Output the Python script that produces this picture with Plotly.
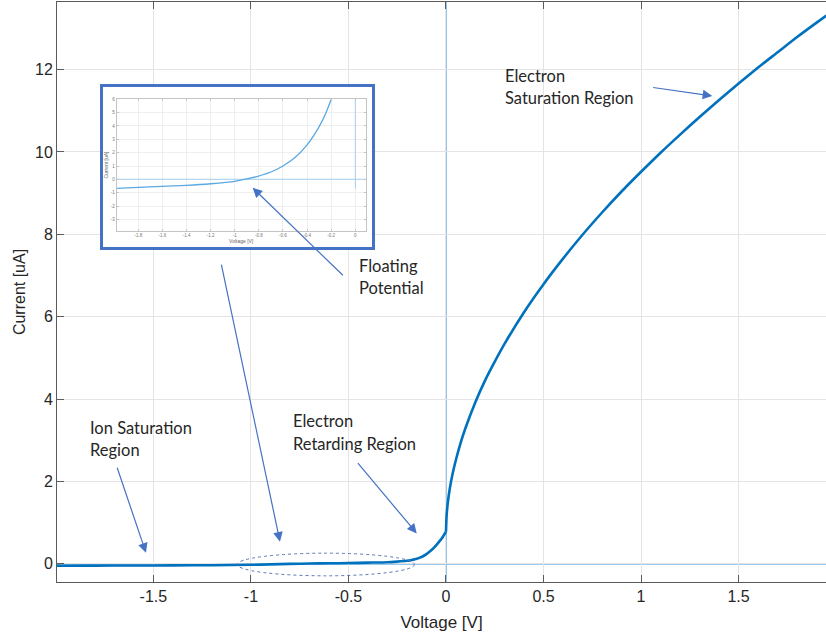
import plotly.graph_objects as go

# ---- Langmuir probe I-V characteristic -------------------------------
# Retarding / ion-saturation side (V <= 0)
v_neg = [-2.0, -1.8, -1.6, -1.4, -1.2, -1.0, -0.9, -0.8, -0.7, -0.6, -0.5,
         -0.4, -0.3, -0.25, -0.2, -0.18, -0.16, -0.14, -0.12, -0.1, -0.08,
         -0.06, -0.04, -0.02, 0.0]
i_neg = [-0.045, -0.042, -0.040, -0.037, -0.032, -0.022, -0.012, 0.0, 0.008,
         0.014, 0.02, 0.03, 0.04, 0.055, 0.075, 0.09, 0.11, 0.14, 0.18, 0.235,
         0.31, 0.40, 0.51, 0.63, 0.78]

# Electron saturation side (V >= 0)
v_pos = [0.0, 0.003, 0.01, 0.02, 0.035, 0.05, 0.075, 0.1, 0.15, 0.2, 0.25,
         0.3, 0.4, 0.5, 0.6, 0.7, 0.8, 0.9, 1.0, 1.1, 1.2, 1.3, 1.4, 1.5, 1.6,
         1.7, 1.8, 1.9, 1.95]
i_pos = [0.78, 1.16, 1.51, 1.84, 2.21, 2.51, 2.94, 3.30, 3.92, 4.45, 4.91,
         5.34, 6.11, 6.79, 7.41, 7.99, 8.53, 9.04, 9.52, 9.98, 10.42, 10.85,
         11.26, 11.66, 12.05, 12.42, 12.79, 13.14, 13.31]

# Inset: close-up around the floating potential
v_inset = [-1.98, -1.8, -1.61, -1.4, -1.2, -1.0, -0.9, -0.81, -0.7, -0.6,
           -0.5, -0.4, -0.3, -0.245, -0.2]
i_inset = [-0.68, -0.60, -0.53, -0.45, -0.33, -0.15, 0.03, 0.23, 0.55, 1.0,
           1.63, 2.58, 3.95, 4.95, 6.0]
v_inset_step = [0.0, 0.0]
i_inset_step = [6.0, -0.7]

x_range = [-1.994, 1.948]
y_range = [-0.44, 13.64]
x_tickvals = [-1.5, -1, -0.5, 0, 0.5, 1, 1.5]
x_ticktext = ["-1.5", "-1", "-0.5", "0", "0.5", "1", "1.5"]
y_tickvals = [0, 2, 4, 6, 8, 10, 12]
y_ticktext = ["0", "2", "4", "6", "8", "10", "12"]

inset_x_range = [-1.98, 0.086]
inset_y_range = [-3.85, 6]
inset_x_tickvals = [-1.8, -1.6, -1.4, -1.2, -1.0, -0.8, -0.6, -0.4, -0.2, 0]
inset_x_ticktext = ["-1.8", "-1.6", "-1.4", "-1.2", "-1", "-0.8", "-0.6",
                    "-0.4", "-0.2", "0"]
inset_y_tickvals = [-3, -2, -1, 0, 1, 2, 3, 4, 5, 6]
inset_y_ticktext = ["-3", "-2", "-1", "0", "1", "2", "3", "4", "5", "6"]

CURVE = "#0072BD"
REF = "#3b93dc"
ARROW = "#4472C4"
AXIS = "#5a5a5a"
TXT = "#262626"
NOTE_FONT = dict(family="Lato", size=16.5, color=TXT)

fig = go.Figure()

fig.add_trace(go.Scatter(x=v_neg, y=i_neg, mode="lines",
                         line=dict(color=CURVE, width=2.6, shape="spline", smoothing=0.6),
                         hoverinfo="skip"))
fig.add_trace(go.Scatter(x=v_pos, y=i_pos, mode="lines",
                         line=dict(color=CURVE, width=2.6, shape="spline", smoothing=0.6),
                         hoverinfo="skip"))

# empty trace that carries the inset frame panel
fig.add_trace(go.Scatter(x=[None], y=[None], xaxis="x2", yaxis="y2",
                         hoverinfo="skip"))

# inset traces
fig.add_trace(go.Scatter(x=inset_x_range, y=[0, 0], mode="lines", xaxis="x3", yaxis="y3",
                         line=dict(color="#b5d6f0", width=1.2), hoverinfo="skip"))
fig.add_trace(go.Scatter(x=v_inset_step, y=i_inset_step, mode="lines", xaxis="x3", yaxis="y3",
                         line=dict(color="#a9cdec", width=1), hoverinfo="skip"))
fig.add_trace(go.Scatter(x=v_inset, y=i_inset, mode="lines", xaxis="x3", yaxis="y3",
                         line=dict(color="#5aa9e2", width=1.3, shape="spline", smoothing=0.6),
                         hoverinfo="skip"))

shapes = [
    # zero reference lines of the main axes
    dict(type="line", xref="x", yref="y", x0=0, x1=0, y0=y_range[0], y1=y_range[1],
         line=dict(color=REF, width=1.1), layer="below"),
    dict(type="line", xref="x", yref="y", x0=x_range[0], x1=x_range[1], y0=0, y1=0,
         line=dict(color=REF, width=1.1), layer="below"),
    # dotted ellipse round the floating-potential region
    dict(type="circle", xref="x", yref="y", x0=-1.07, x1=-0.162, y0=-0.29, y1=0.26,
         line=dict(color="#5b78b4", width=1, dash="dot"), layer="above"),
]

annotations = []


def note(text, x, y):
    annotations.append(dict(text=text, x=x, y=y, xref="x", yref="y",
                            xanchor="left", yanchor="middle", showarrow=False,
                            font=NOTE_FONT))


def arrow(x_tail, y_tail, x_head, y_head):
    annotations.append(dict(text="", x=x_head, y=y_head, ax=x_tail, ay=y_tail,
                            xref="x", yref="y", axref="x", ayref="y",
                            showarrow=True, arrowhead=2, arrowsize=1.6,
                            arrowwidth=1.2, arrowcolor=ARROW, standoff=0))


note("Electron", 0.294, 11.84)
note("Saturation Region", 0.294, 11.30)
note("Floating", -0.458, 7.23)
note("Potential", -0.458, 6.70)
note("Electron", -0.795, 3.47)
note("Retarding Region", -0.795, 2.91)
note("Ion Saturation", -1.837, 3.30)
note("Region", -1.837, 2.76)

arrow(1.054, 11.57, 1.365, 11.36)
arrow(-0.521, 6.97, -0.991, 9.13)
arrow(-0.458, 2.48, -0.150, 0.74)
arrow(-1.688, 2.37, -1.538, 0.27)
arrow(-1.153, 7.30, -0.851, 0.54)

fig.update_layout(
    width=826, height=636, autosize=False,
    margin=dict(l=57, r=0, t=2, b=54),
    paper_bgcolor="white", plot_bgcolor="white",
    showlegend=False,
    font=dict(family="Liberation Sans, Arial, sans-serif", color=TXT),
    shapes=shapes, annotations=annotations,
    xaxis=dict(range=x_range, tickvals=x_tickvals, ticktext=x_ticktext,
               showgrid=True, gridcolor="#e4e4e4", gridwidth=1, zeroline=False,
               showline=True, linecolor=AXIS, linewidth=1, mirror="ticks",
               ticks="inside", ticklen=7, tickcolor=AXIS,
               tickfont=dict(size=16, color=TXT),
               title=dict(text="Voltage [V]", font=dict(size=17, color=TXT), standoff=11)),
    yaxis=dict(range=y_range, tickvals=y_tickvals, ticktext=y_ticktext,
               showgrid=True, gridcolor="#e4e4e4", gridwidth=1, zeroline=False,
               showline=True, linecolor=AXIS, linewidth=1, mirror=False,
               ticks="inside", ticklen=7, tickcolor=AXIS,
               tickfont=dict(size=16, color=TXT),
               title=dict(text="Current [uA]", font=dict(size=16, color=TXT), standoff=5)),
    # frame panel behind the inset
    xaxis2=dict(domain=[0.0592, 0.409], anchor="y2", range=[0, 1],
                showgrid=False, zeroline=False, showticklabels=False, ticks="",
                showline=True, mirror=True, linecolor=ARROW, linewidth=2.6),
    yaxis2=dict(domain=[0.5784, 0.8526], anchor="x2", range=[0, 1],
                showgrid=False, zeroline=False, showticklabels=False, ticks="",
                showline=True, mirror=True, linecolor=ARROW, linewidth=2.6),
    # inset axes
    xaxis3=dict(domain=[0.0776, 0.4014], anchor="y3", range=inset_x_range,
                tickvals=inset_x_tickvals, ticktext=inset_x_ticktext,
                showgrid=True, gridcolor="#eeeeee", zeroline=False,
                showline=True, mirror="ticks", linecolor="#c4c4c4", linewidth=1,
                ticks="inside", ticklen=2, tickcolor="#c4c4c4",
                tickfont=dict(size=4.5, color="#777777"),
                title=dict(text="Voltage [V]", font=dict(size=5, color="#666666"), standoff=1)),
    yaxis3=dict(domain=[0.6057, 0.8322], anchor="x3", range=inset_y_range,
                tickvals=inset_y_tickvals, ticktext=inset_y_ticktext,
                showgrid=True, gridcolor="#eeeeee", zeroline=False,
                showline=True, mirror="ticks", linecolor="#c4c4c4", linewidth=1,
                ticks="inside", ticklen=2, tickcolor="#c4c4c4",
                tickfont=dict(size=4.5, color="#777777"),
                title=dict(text="Current [uA]", font=dict(size=5, color="#666666"), standoff=1)),
)

fig.write_html("out.html")
